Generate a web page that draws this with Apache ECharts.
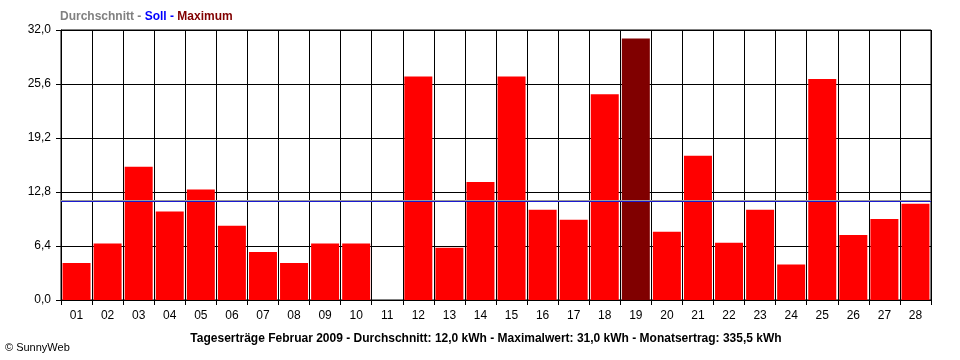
<!DOCTYPE html>
<html><head><meta charset="utf-8">
<script src="https://cdn.jsdelivr.net/npm/echarts@6/dist/echarts.min.js"></script>
<style>html,body{margin:0;padding:0;background:#fff}#c{width:960px;height:360px}</style>
</head><body><div id="c"></div>
<script>
const days = ['01','02','03','04','05','06','07','08','09','10','11','12','13','14','15','16','17','18','19','20','21','22','23','24','25','26','27','28'];
const yields = [4.4,6.7,15.8,10.5,13.1,8.8,5.7,4.4,6.7,6.7,0,26.5,6.2,14.0,26.5,10.7,9.5,24.4,31.0,8.1,17.1,6.8,10.7,4.2,26.2,7.7,9.6,11.4];
const averageLine = 11.85;
const targetLine = 11.72;
const yMin = 0, yMax = 32, yStep = 6.4;
const headerParts = [['Durchschnitt - ','g'],['Soll - ','b'],['Maximum','m']];
const footer = 'Tageserträge Februar 2009 - Durchschnitt: 12,0 kWh - Maximalwert: 31,0 kWh - Monatsertrag: 335,5 kWh';
const credit = '© SunnyWeb';

const maxVal = Math.max.apply(null, yields);
const barData = yields.map(v => ({value: v, itemStyle: {color: v === maxVal ? '#800000' : '#ff0000'}}));
const font = 'Liberation Sans, Arial, sans-serif';
const chart = echarts.init(document.getElementById('c'), null, {renderer: 'canvas'});
chart.setOption({
  animation: false,
  backgroundColor: '#fff',
  title: [
    {left: 55, top: 6, text: headerParts.map(p => '{' + p[1] + '|' + p[0] + '}').join(''),
     textStyle: {fontFamily: font, fontSize: 12, fontWeight: 'bold',
       rich: {g: {color: '#808080', fontWeight: 'bold', fontSize: 12, fontFamily: font},
              b: {color: '#0000ff', fontWeight: 'bold', fontSize: 12, fontFamily: font},
              m: {color: '#800000', fontWeight: 'bold', fontSize: 12, fontFamily: font}}}},
    {left: 481, textAlign: 'center', top: 328, text: footer,
     textStyle: {fontFamily: font, fontSize: 12, fontWeight: 'bold', color: '#000'}},
    {left: 0, top: 337, text: credit, textStyle: {fontFamily: font, fontSize: 11, fontWeight: 'normal', color: '#000'}}
  ],
  grid: {left: 61, right: 29, top: 30, bottom: 60, show: true, borderColor: '#000', borderWidth: 1},
  xAxis: {
    type: 'category', data: days, boundaryGap: true,
    axisLine: {show: true, lineStyle: {color: '#000', width: 1}},
    axisTick: {show: true, alignWithLabel: false, length: 5, lineStyle: {color: '#000'}},
    axisLabel: {interval: 0, color: '#000', fontFamily: font, fontSize: 12, margin: 10},
    splitLine: {show: true, interval: 0, lineStyle: {color: '#000', width: 1}}
  },
  yAxis: {
    type: 'value', min: yMin, max: yMax, interval: yStep,
    axisLine: {show: true, lineStyle: {color: '#000', width: 1}},
    axisTick: {show: true, length: 5, lineStyle: {color: '#000'}},
    axisLabel: {color: '#000', fontFamily: font, fontSize: 12, margin: 10,
      formatter: v => v.toFixed(1).replace('.', ',')},
    splitLine: {show: true, lineStyle: {color: '#000', width: 1}}
  },
  series: [{
    type: 'bar', data: barData, barWidth: 28, barGap: '0%',
    markLine: {
      silent: true, symbol: 'none', label: {show: false},
      data: [
        {yAxis: averageLine, lineStyle: {color: '#999999', width: 1, type: 'solid'}},
        {yAxis: targetLine, lineStyle: {color: '#1a1ad0', width: 1, type: 'solid'}}
      ]
    }
  }]
});
</script></body></html>
